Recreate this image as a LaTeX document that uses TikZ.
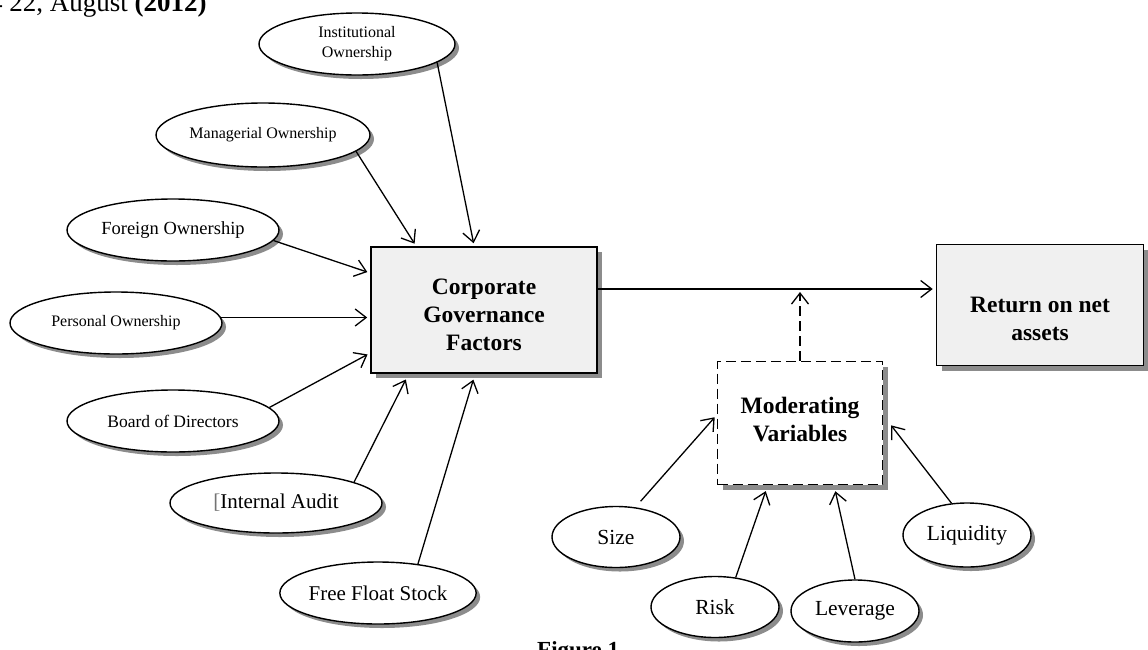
\documentclass[tikz,border=0pt]{standalone}
\usepackage{fontspec}
\setmainfont{Liberation Serif}
\usetikzlibrary{arrows.meta, shapes.geometric, shadows}

\begin{document}
\begin{tikzpicture}[
  x=1pt, y=-1pt,
  oval/.style={draw, ellipse, line width=1.4pt, fill=white, inner sep=0pt,
               minimum width=212pt, minimum height=62pt,
               drop shadow={shadow xshift=4pt, shadow yshift=-4pt, fill=black!45, opacity=1}},
  soval/.style={oval, minimum width=128pt, minimum height=61pt,
                font=\fontsize{21.5}{24}\selectfont},
  bfont/.style={font=\fontsize{23.5}{28}\selectfont\bfseries, align=center},
  cbox/.style={draw, line width=1.6pt, fill=black!6, inner sep=0pt, bfont,
               drop shadow={shadow xshift=5pt, shadow yshift=-5pt, fill=black!45, opacity=1}},
  mbox/.style={cbox, fill=white, dash pattern=on 10pt off 5pt},
  arr/.style={-{Straight Barb[length=11pt, width=17pt]}, line width=1.3pt, shorten >=3pt},
  arrd/.style={arr, dash pattern=on 10pt off 5pt},
]
\useasboundingbox (0,0) rectangle (1148,649);
\clip (0,0) rectangle (1148,649);

% --- Header (cut at top) ---
\node[anchor=base west, inner sep=0pt, font=\fontsize{27}{32}\selectfont] (hd) at (-11,11)
  {4 22, August \textbf{(2012)}};

% --- Governance factors ---
\node[oval, minimum width=196pt, align=center, font=\fontsize{16}{20}\selectfont] (o1) at (357,44) {Institutional\\Ownership};
\node[oval, minimum width=214pt, minimum height=64pt, font=\fontsize{16}{19}\selectfont] (o2) at (263,135) {Managerial Ownership};
\node[oval, font=\fontsize{18.5}{21}\selectfont] (o3) at (173,230) {Foreign Ownership};
\node[oval, font=\fontsize{16}{19}\selectfont] (o4) at (116,323) {Personal Ownership};
\node[oval, font=\fontsize{17.5}{20}\selectfont] (o5) at (173,421) {Board of Directors};
\node[oval, minimum height=60pt, font=\fontsize{21}{24}\selectfont] (o6) at (276,503) {{\color{black!55}[}Internal Audit};
\node[oval, minimum width=190pt, font=\fontsize{21}{24}\selectfont] (o7) at (378,593) {Free Float Stock};

% --- Main boxes ---
\node[cbox, minimum width=226pt, minimum height=126pt,
      label={[bfont, yshift=-5pt]center:Corporate\\Governance\\Factors}] (c1) at (484,310) {};
\node[cbox, minimum width=207pt, minimum height=121pt,
      label={[bfont, yshift=-14pt]center:Return on net\\assets}] (r1) at (1040,305) {};
\node[mbox, minimum width=165pt, minimum height=123pt,
      label={[bfont, yshift=3pt]center:Moderating\\Variables}] (v0) at (800,423) {};

% --- Moderators ---
\node[soval] (v1) at (616,537) {Size};
\node[soval] (v2) at (715,607) {Risk};
\node[soval, minimum height=62pt] (v3) at (855,611) {Leverage};
\node[soval, minimum height=64pt] (v4) at (967,535) {Liquidity};

% --- Caption (cut at bottom) ---
\node[anchor=base west, inner sep=0pt, font=\fontsize{23}{28}\selectfont\bfseries] (fig) at (537,657) {Figure 1};

% --- Main link ---
\coordinate (link) at ([yshift=21pt]c1.east);
\draw[arr] (link) -- (link -| r1.west);
\draw[arrd] (v0.north) -- (v0.north |- link);

% --- Factors into the box ---
\draw[arr] (o1.-13) -- ([xshift=104pt]c1.north west);
\draw[arr] (o2.-10) -- ([xshift=46pt]c1.north west);
\draw[arr] (o3.-6) -- ([yshift=37pt]c1.west);
\draw[arr] (o4.3) -- (o4.3 -| c1.west);
\draw[arr] (o5.8) -- ([yshift=-43pt]c1.west);
\draw[arr] (o6.15) -- ([xshift=37pt, yshift=-3pt]c1.south west);
\draw[arr] (o7.36) -- ([xshift=104pt, yshift=-3pt]c1.south west);

% --- Moderators into their box ---
\draw[arr, shorten <=8pt] (v1.57) -- ([yshift=8pt]v0.west);
\draw[arr] (v2.55) -- ([xshift=50pt, yshift=-3pt]v0.south west);
\draw[arr] (v3.north) -- ([xshift=118pt, yshift=-3pt]v0.south west);
\draw[arr] (v4.116) -- ([xshift=6pt]v0.east);

\end{tikzpicture}
\end{document}
